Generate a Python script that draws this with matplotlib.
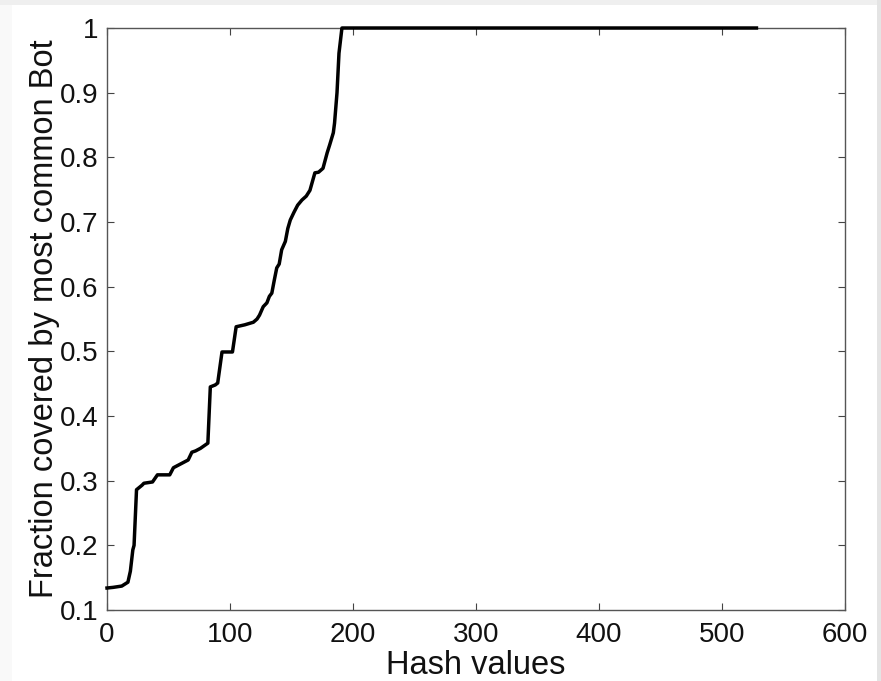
import matplotlib
matplotlib.use("Agg")
import matplotlib.pyplot as plt
from matplotlib.patches import Rectangle

hash_values = [0, 5, 12, 17, 19, 21, 22, 24, 28.5, 30, 37, 41, 51, 54, 60, 66, 69, 72, 76,
               82, 84, 88, 90, 93.5, 102, 104, 105, 112, 119, 122, 124, 127, 130, 132,
               134, 136, 138, 140, 142, 145, 147, 149, 152, 155, 158.5, 162, 165, 169,
               172, 175.6, 179, 181, 184, 185, 187, 188.6, 191, 528]
fraction = [0.134, 0.135, 0.137, 0.143, 0.16, 0.193, 0.2, 0.286, 0.293, 0.296, 0.298,
            0.309, 0.309, 0.32, 0.326, 0.332, 0.344, 0.346, 0.35, 0.358, 0.445, 0.448,
            0.451, 0.499, 0.499, 0.525, 0.538, 0.541, 0.545, 0.55, 0.556, 0.569, 0.575,
            0.585, 0.59, 0.61, 0.629, 0.635, 0.657, 0.67, 0.69, 0.703, 0.715, 0.726,
            0.734, 0.74, 0.749, 0.776, 0.777, 0.783, 0.807, 0.819, 0.838, 0.853, 0.9,
            0.961, 1.0, 1.0]
xticks = [0, 100, 200, 300, 400, 500, 600]
yticks = [0.1, 0.2, 0.3, 0.4, 0.5, 0.6, 0.7, 0.8, 0.9, 1.0]
ytick_labels = ["0.1", "0.2", "0.3", "0.4", "0.5", "0.6", "0.7", "0.8", "0.9", "1"]

plt.rcParams['font.family'] = ['Liberation Sans', 'DejaVu Sans']

fig = plt.figure(figsize=(8.81, 6.81), dpi=100, facecolor='white')
# light gray frame strips around the screenshot
fig.patches.append(Rectangle((0, 1 - 5/681), 1, 5/681, transform=fig.transFigure,
                             facecolor='#efefef', edgecolor='none', zorder=0))
fig.patches.append(Rectangle((877/881, 0), 4/881, 1, transform=fig.transFigure,
                             facecolor='#e4e4e4', edgecolor='none', zorder=0))
fig.patches.append(Rectangle((0, 0), 12/881, 1 - 5/681, transform=fig.transFigure,
                             facecolor='#f9f9f9', edgecolor='none', zorder=0))

ax = fig.add_axes([107/881, 71/681, 738/881, 582/681])
ax.plot(hash_values, fraction, color='black', linewidth=2.5, clip_on=False, zorder=5)
ax.set_xlim(0, 600)
ax.set_ylim(0.1, 1.0)
ax.set_xticks(xticks)
ax.set_yticks(yticks)
ax.set_yticklabels(ytick_labels)
ax.tick_params(direction='in', length=5, width=0.8, color='#444444', labelsize=20,
               top=True, right=True, labelcolor='#111111')
ax.tick_params(axis='x', pad=9)
ax.tick_params(axis='y', pad=6)
for s in ax.spines.values():
    s.set_color('#555555')
    s.set_linewidth(1.0)
ax.set_xlabel('Hash values', fontsize=23.5, labelpad=1, color='#111111')
ax.set_ylabel('Fraction covered by most common Bot', fontsize=23.5, labelpad=0, color='#111111')

fig.savefig('out.png', dpi=100, facecolor=fig.get_facecolor())
